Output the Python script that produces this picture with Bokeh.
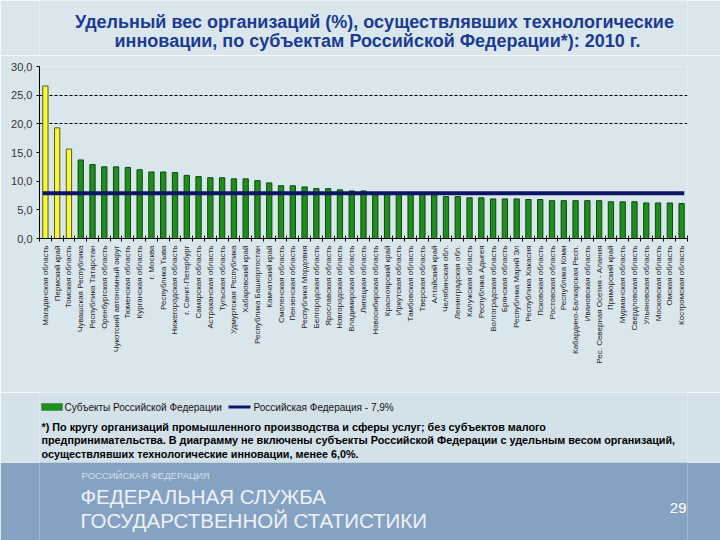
import math
from bokeh.plotting import figure
from bokeh.models import (Range1d, FixedTicker, Label, ColumnDataSource, BoxAnnotation)
from bokeh.layouts import column
from bokeh.embed import file_html
from bokeh.resources import INLINE

# ---------------- data ----------------
regions = [
    "Магаданская область", "Пермский край", "Томская область", "Чувашская Республика",
    "Республика Татарстан", "Оренбургская область", "Чукотский автономный округ",
    "Тюменская область", "Курганская область", "г. Москва", "Республика Тыва",
    "Нижегородская область", "г. Санкт-Петербург", "Самарская область",
    "Астраханская область", "Тульская область", "Удмуртская Республика",
    "Хабаровский край", "Республика Башкортостан", "Камчатский край",
    "Смоленская область", "Пензенская область", "Республика Мордовия",
    "Белгородская область", "Ярославская область", "Новгородская область",
    "Владимирская область", "Липецкая область", "Новосибирская область",
    "Красноярский край", "Иркутская область", "Тамбовская область",
    "Тверская область", "Алтайский край", "Челябинская обл.", "Ленинградская обл.",
    "Калужская область", "Республика Адыгея", "Волгоградская область",
    "Брянская область", "Республика Марий Эл", "Республика Хакасия",
    "Псковская область", "Ростовская область", "Республика Коми",
    "Кабардино-Балкарская Респ.", "Ивановская область",
    "Рес. Северная Осетия - Алания", "Приморский край", "Мурманская область",
    "Свердловская область", "Ульяновская область", "Московская область",
    "Омская область", "Костромская область",
]
shares = [
    26.6, 19.3, 15.6, 13.7, 12.9, 12.5, 12.5, 12.4, 12.0, 11.6,
    11.6, 11.5, 11.0, 10.8, 10.6, 10.6, 10.4, 10.4, 10.1, 9.7,
    9.2, 9.2, 9.0, 8.7, 8.7, 8.5, 8.3, 8.3, 7.7, 7.7,
    7.7, 7.7, 7.7, 7.7, 7.3, 7.3, 7.1, 7.1, 6.9, 6.9,
    6.9, 6.8, 6.8, 6.6, 6.6, 6.6, 6.6, 6.6, 6.4, 6.4,
    6.4, 6.2, 6.2, 6.2, 6.1,
]
rf_level = 7.9
highlight_count = 3
y_ticks = [0, 5, 10, 15, 20, 25, 30]
y_tick_labels = ["0,0", "5,0", "10,0", "15,0", "20,0", "25,0", "30,0"]
grid_levels = [20, 25]
legend_labels = ["Субъекты Российской Федерации", "Российская Федерация - 7,9%"]
title_lines = [
    "Удельный вес организаций (%), осуществлявших технологические",
    "инновации, по субъектам Российской Федерации*): 2010 г.",
]
note_lines = [
    "*) По кругу организаций промышленного производства и сферы услуг; без субъектов малого",
    "предпринимательства. В диаграмму не включены субъекты Российской Федерации с удельным весом организаций,",
    "осуществлявших технологические инновации, менее 6,0%.",
]
banner_small = "РОССИЙСКАЯ ФЕДЕРАЦИЯ"
banner_lines = ["ФЕДЕРАЛЬНАЯ СЛУЖБА", "ГОСУДАРСТВЕННОЙ СТАТИСТИКИ"]
page_number = "29"

# ---------------- styles ----------------
BG = "#d9e7ed"
BG_LOW = "#d3e2e9"
GREEN = "#1f8e1f"
GREEN_LINE = "#0c4a0c"
YELLOW = "#f6f63c"
YELLOW_LINE = "#5c5c10"
NAVY = "#0c1466"
TITLE_C = "#1c3a92"
BAND = "#86a2c3"
FONT = "Liberation Sans"

W = 720
FL, FR = 39, 687            # frame left/right in page pixels (all parts share it)
TITLE_BOTTOM = 55
FT, FB = 66, 238            # chart frame top/bottom in page pixels
CHART_BOTTOM = 392
NOTE_BOTTOM = 462
PAGE_BOTTOM = 540


def strip(top, bottom, fill):
    """A text-only figure whose frame spans page x FL..FR and page y top..bottom."""
    f = figure(width=W, height=bottom - top, output_backend="svg", toolbar_location=None,
               x_range=Range1d(FL, FR), y_range=Range1d(bottom, top),
               min_border_left=FL, min_border_right=W - FR, min_border_top=0,
               min_border_bottom=0)
    f.axis.visible = False
    f.grid.visible = False
    f.outline_line_color = None
    f.background_fill_color = fill
    f.border_fill_color = fill
    return f


def put(f, text, px, py, size, color="black", style="normal", align="left", alpha=1.0):
    f.add_layout(Label(x=px, y=py, text=text, text_font=FONT, text_font_size=size,
                       text_color=color, text_alpha=alpha, text_font_style=style,
                       text_align=align, text_baseline="middle"))


# ---------------- title ----------------
t = strip(0, TITLE_BOTTOM, BG)
put(t, title_lines[0], 374, 21, "18px", TITLE_C, "bold", "center")
put(t, title_lines[1], 377, 40, "18px", TITLE_C, "bold", "center")

# ---------------- chart ----------------
n = len(regions)
xs = list(range(n))
bar_w = 0.45
fills = [YELLOW if i < highlight_count else GREEN for i in range(n)]
lines = [YELLOW_LINE if i < highlight_count else GREEN_LINE for i in range(n)]
src = ColumnDataSource(dict(x=xs, top=shares, fill=fills, line=lines, region=regions))

p = figure(width=W, height=CHART_BOTTOM - TITLE_BOTTOM, output_backend="svg",
           toolbar_location=None, title=None,
           x_range=Range1d(-0.5, n - 0.5), y_range=Range1d(y_ticks[0], y_ticks[-1]),
           min_border_left=FL, min_border_right=W - FR, min_border_top=FT - TITLE_BOTTOM,
           min_border_bottom=CHART_BOTTOM - FB)
p.background_fill_color = BG
p.border_fill_color = BG
p.outline_line_color = None

bars = p.vbar(x="x", top="top", bottom=0, width=bar_w, fill_color="fill",
              line_color="line", line_width=1, source=src)
ref = p.line(x=[xs[0] - bar_w / 2, xs[-1] + bar_w / 2], y=[rf_level, rf_level],
             line_color=NAVY, line_width=4)

xa = p.xaxis[0]
xa.ticker = FixedTicker(ticks=xs, minor_ticks=[i - 0.5 for i in range(n + 1)])
xa.major_label_overrides = {i: r for i, r in enumerate(regions)}
xa.major_label_orientation = math.pi / 2
xa.major_tick_in = 0
xa.major_tick_out = 0
xa.minor_tick_in = 3
xa.minor_tick_out = 3
xa.minor_tick_line_color = "black"
xa.major_label_standoff = 4
xa.major_label_text_font = FONT
xa.major_label_text_font_size = "8px"
xa.major_label_text_color = "#222222"
xa.axis_line_color = "black"

ya = p.yaxis[0]
ya.ticker = FixedTicker(ticks=y_ticks)
ya.major_label_overrides = {tk: lb for tk, lb in zip(y_ticks, y_tick_labels)}
ya.major_tick_in = 0
ya.major_tick_out = 3
ya.minor_tick_line_color = None
ya.major_label_standoff = 4
ya.major_label_text_font = FONT
ya.major_label_text_font_size = "11px"
ya.major_label_text_color = "#333333"
ya.axis_line_color = "black"

p.xgrid.visible = False
p.ygrid.ticker = FixedTicker(ticks=grid_levels)
p.ygrid.grid_line_color = "black"
p.ygrid.grid_line_dash = "3 2"
p.ygrid.grid_line_width = 1

# ---------------- legend + footnote ----------------
nt = strip(CHART_BOTTOM, NOTE_BOTTOM, BG_LOW)
nt.add_layout(BoxAnnotation(left=41, right=62, top=403, bottom=410, fill_color=GREEN,
                            fill_alpha=1, line_color=GREEN_LINE, line_width=1,
                            level="overlay"))
nt.add_layout(BoxAnnotation(left=228, right=250, top=405, bottom=408, fill_color=NAVY,
                            fill_alpha=1, line_color=None, level="overlay"))
put(nt, legend_labels[0], 64, 406.5, "10px", "#111111")
put(nt, legend_labels[1], 253, 406.5, "10px", "#111111")
for k, line in enumerate(note_lines):
    put(nt, line, 41, 426 + 13.5 * k, "10.8px", "black", "bold", "left")

# ---------------- banner ----------------
b = strip(NOTE_BOTTOM, PAGE_BOTTOM, BAND)
put(b, banner_small, 81, 475, "9.5px", "#e8eef4", alpha=0.8)
put(b, banner_lines[0], 80, 496, "20.5px", "#eef2f6")
put(b, banner_lines[1], 80, 520, "20.5px", "#eef2f6")
put(b, page_number, 686, 507, "15px", "#ffffff", align="right")

layout = column(t, p, nt, b, spacing=0)
open("out.html", "w").write(file_html(layout, INLINE))
